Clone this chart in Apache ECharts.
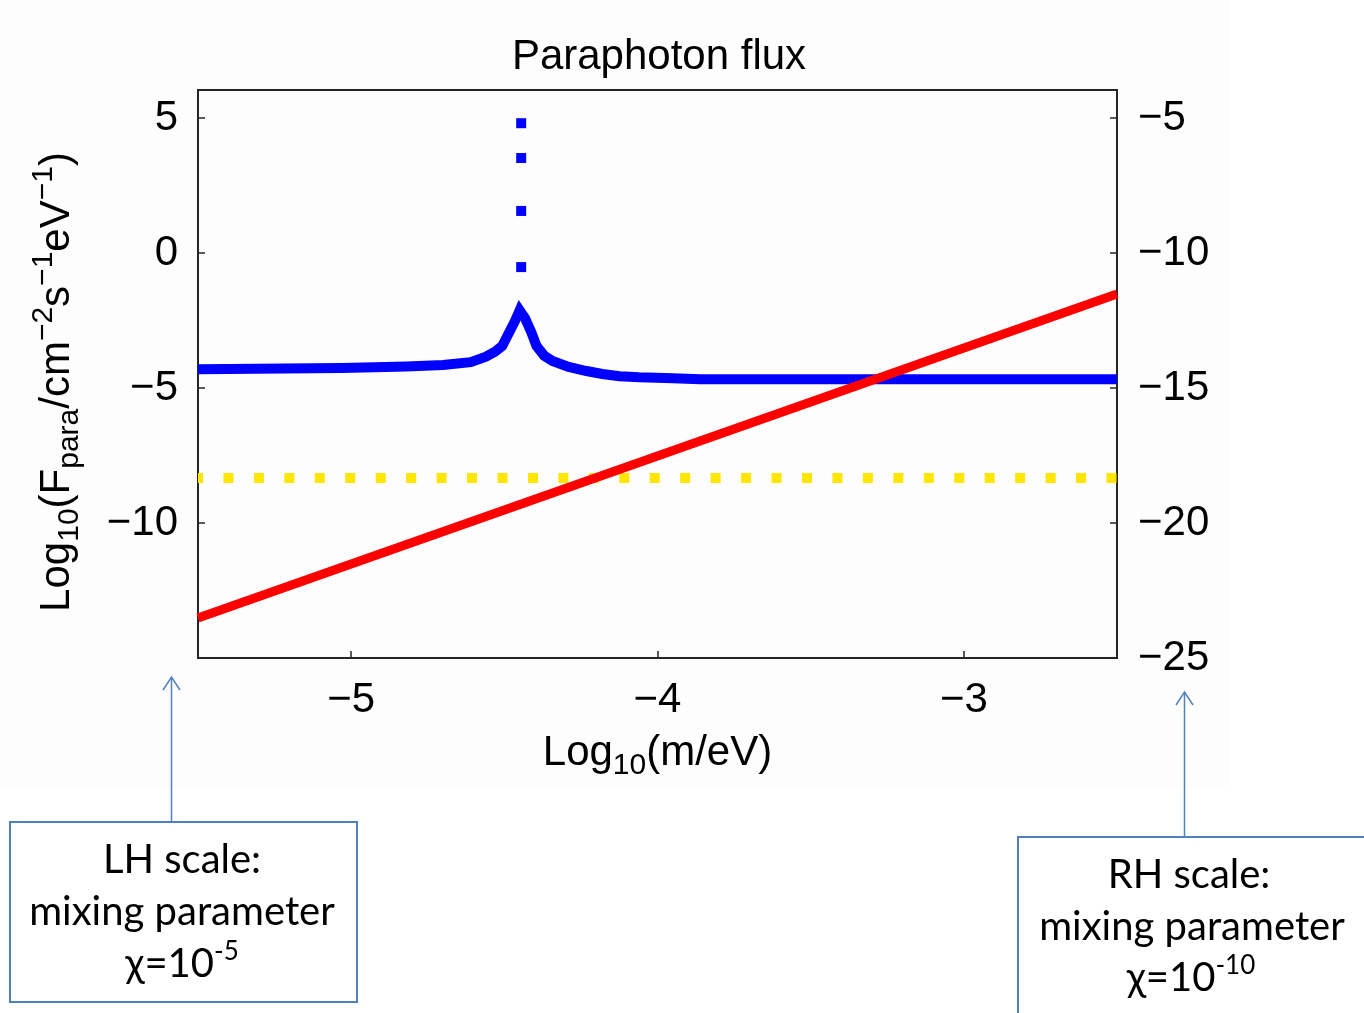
<!DOCTYPE html>
<html>
<head>
<meta charset="utf-8">
<title>Paraphoton flux</title>
<script src="https://cdn.jsdelivr.net/npm/echarts@6/dist/echarts.min.js"></script>
<style>
    html, body { margin: 0; padding: 0; background: #fff; }
    #chart { width: 1364px; height: 1013px; }
</style>
</head>
<body>
<div id="chart"></div>
<script>
    // axis ticks
    const xTicks = [-5, -4, -3];
    const leftTicks = [-10, -5, 0, 5];
    const rightTicks = [-25, -20, -15, -10, -5];

    // blue: flux for chi = 1e-5 (left scale), [log10 m, log10 F]
    const blueCurve = [
        [-5.50, -4.30], [-5.03, -4.26], [-4.82, -4.20], [-4.70, -4.15],
        [-4.61, -4.04], [-4.56, -3.84], [-4.53, -3.65], [-4.507, -3.44],
        [-4.484, -2.93], [-4.467, -2.56], [-4.450, -2.12], [-4.432, -2.42],
        [-4.412, -2.93], [-4.395, -3.44], [-4.370, -3.80], [-4.343, -4.00],
        [-4.29, -4.22], [-4.232, -4.37], [-4.18, -4.48], [-4.124, -4.56],
        [-4.06, -4.60], [-3.95, -4.64], [-3.86, -4.67], [-2.50, -4.67]
    ];
    // isolated points of the resonance spike
    const bluePeak = [[-4.445, 4.81], [-4.445, 3.52], [-4.445, 1.56], [-4.445, -0.52]];
    // yellow dotted level
    const yellowLevel = [[-5.5, -8.33], [-2.5, -8.33]];
    // red straight line
    const redLine = [[-5.5, -13.52], [-2.5, -1.52]];

    const FONT = 'Liberation Sans';
    const BOX_FONT = 'Lato';
    const boxColor = '#4f81bd';

    const minus = (v) => String(v).replace('-', '\u2212');

    const nameRich = {
        a: { fontFamily: FONT, fontSize: 42, lineHeight: 56, color: '#000' },
        b: { fontFamily: FONT, fontSize: 30, lineHeight: 30, verticalAlign: 'bottom', color: '#000' },
        c: { fontFamily: FONT, fontSize: 30, lineHeight: 30, verticalAlign: 'top', color: '#000' }
    };

    const boxRich = {
        m: { fontFamily: BOX_FONT, fontSize: 40, lineHeight: 50, fill: '#000' },
        s: { fontFamily: BOX_FONT, fontSize: 26, lineHeight: 30, verticalAlign: 'top', fill: '#000' }
    };

    const boxText = (x, y, text) => ({
        type: 'text',
        style: {
            text: text, x: x, y: y,
            textAlign: 'center', textVerticalAlign: 'middle',
            fontFamily: BOX_FONT, fontSize: 40, fill: '#000',
            rich: boxRich
        }
    });

    const chart = echarts.init(document.getElementById('chart'));

    const option = {
        animation: false,
        backgroundColor: '#fff',
        title: {
            text: 'Paraphoton flux',
            left: 654,
            top: 31,
            textAlign: 'center',
            textStyle: { fontFamily: FONT, fontSize: 42, fontWeight: 'normal', color: '#000' }
        },
        grid: {
            left: 198,
            right: 247,
            top: 90,
            bottom: 355,
            show: true,
            borderColor: '#262626',
            borderWidth: 2,
            backgroundColor: 'transparent'
        },
        xAxis: {
            type: 'value',
            min: -5.5,
            max: -2.5,
            name: '{a|Log}{b|10}{a|(m/eV)}',
            nameLocation: 'middle',
            nameGap: 67,
            nameTextStyle: { rich: nameRich },
            axisLine: { onZero: false, lineStyle: { color: '#262626', width: 2 } },
            axisTick: { inside: true, length: 7, customValues: xTicks, lineStyle: { color: '#262626', width: 1.5 } },
            axisLabel: {
                customValues: xTicks,
                margin: 21,
                fontFamily: FONT, fontSize: 42, color: '#000',
                formatter: minus
            },
            splitLine: { show: false }
        },
        yAxis: [{
            type: 'value',
            position: 'left',
            min: -15,
            max: 6.04,
            name: '{a|Log}{b|10}{a|(F}{b|para}{a|/cm}{c|\u22122}{a|s}{c|\u22121}{a|eV}{c|\u22121}{a|)}',
            nameLocation: 'middle',
            nameGap: 113,
            nameTextStyle: { rich: nameRich, padding: [0, 16, 0, 0] },
            axisLine: { onZero: false, lineStyle: { color: '#262626', width: 2 } },
            axisTick: { inside: true, length: 7, customValues: leftTicks, lineStyle: { color: '#262626', width: 1.5 } },
            axisLabel: {
                customValues: leftTicks,
                margin: 20,
                fontFamily: FONT, fontSize: 42, color: '#000',
                formatter: minus
            },
            splitLine: { show: false }
        }, {
            type: 'value',
            position: 'right',
            min: -25,
            max: -3.96,
            axisLine: { show: true, onZero: false, lineStyle: { color: '#262626', width: 2 } },
            axisTick: { show: true, inside: true, length: 7, customValues: rightTicks, lineStyle: { color: '#262626', width: 1.5 } },
            axisLabel: {
                customValues: rightTicks,
                margin: 21,
                fontFamily: FONT, fontSize: 42, color: '#000',
                formatter: minus
            },
            splitLine: { show: false }
        }],
        series: [{
            name: 'level',
            type: 'line',
            data: yellowLevel,
            showSymbol: false,
            lineStyle: { color: '#ffe600', width: 10, type: [10, 20.45], dashOffset: 5, cap: 'butt' },
            z: 2
        }, {
            name: 'chi 1e-5',
            type: 'line',
            data: blueCurve,
            showSymbol: false,
            lineStyle: { color: '#0000ff', width: 10, join: 'miter' },
            z: 3
        }, {
            name: 'spike',
            type: 'scatter',
            data: bluePeak,
            symbol: 'rect',
            symbolSize: 10,
            itemStyle: { color: '#0000ff', opacity: 1 },
            z: 3
        }, {
            name: 'chi 1e-10',
            type: 'line',
            data: redLine,
            showSymbol: false,
            lineStyle: { color: '#ff0000', width: 9 },
            z: 4
        }],
        graphic: [
            // faint background of the pasted plot picture
            { type: 'rect', z: -10, shape: { x: 0, y: 0, width: 1230, height: 790 }, style: { fill: '#fdfdfd' } },
            // left note + arrow
            { type: 'line', shape: { x1: 171.5, y1: 822, x2: 171.5, y2: 677 }, style: { stroke: boxColor, lineWidth: 1.5 } },
            { type: 'polyline', shape: { points: [[163, 690], [171.5, 677], [180, 690]] }, style: { stroke: boxColor, lineWidth: 1.5, fill: null } },
            { type: 'rect', shape: { x: 10, y: 822, width: 347, height: 180 }, style: { stroke: boxColor, lineWidth: 2, fill: '#fff' } },
            boxText(182, 860, 'LH scale:'),
            boxText(182, 912, 'mixing parameter'),
            boxText(182, 964, '{m|\u03c7=10}{s|-5}'),
            // right note + arrow
            { type: 'line', shape: { x1: 1184.5, y1: 837, x2: 1184.5, y2: 692 }, style: { stroke: boxColor, lineWidth: 1.5 } },
            { type: 'polyline', shape: { points: [[1176, 705], [1184.5, 692], [1193, 705]] }, style: { stroke: boxColor, lineWidth: 1.5, fill: null } },
            { type: 'rect', shape: { x: 1018, y: 837, width: 400, height: 220 }, style: { stroke: boxColor, lineWidth: 2, fill: '#fff' } },
            boxText(1189, 875, 'RH scale:'),
            boxText(1192, 927, 'mixing parameter'),
            boxText(1191, 978, '{m|\u03c7=10}{s|-10}')
        ]
    };

    chart.setOption(option);
    window.addEventListener('resize', () => chart.resize());
</script>
</body>
</html>
